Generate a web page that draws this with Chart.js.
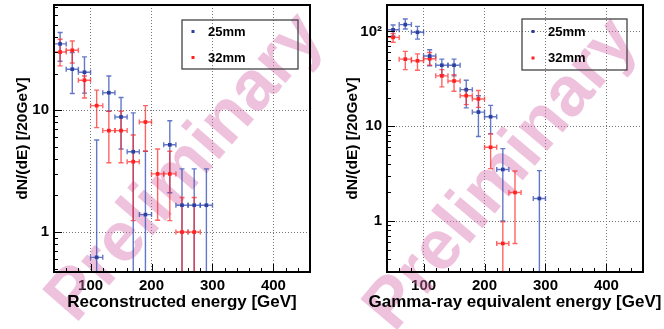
<!DOCTYPE html>
<html><head><meta charset="utf-8">
<script src="https://cdn.jsdelivr.net/npm/chart.js@4"></script>
<style>
html,body{margin:0;padding:0;background:#fff;}
#wrap{position:relative;width:664px;height:329px;overflow:hidden;background:#fff;}
.c{position:absolute;top:0;width:332px;height:329px;}
</style></head><body>
<div id="wrap">
<div class="c" style="left:0"><canvas id="c1" width="332" height="329"></canvas></div>
<div class="c" style="left:332px"><canvas id="c2" width="332" height="329"></canvas></div>
</div>
<script>
// ---- data ----
const energyBins = [50,70,90,110,130,150,170,190,210,230,250,270,290];
const binHalfWidth = 10;
const seriesLabels = ['25mm','32mm'];
const xTickValues = [100,200,300,400];

// left panel: reconstructed energy
const recoBlue     = [35, 21.7, 20.5, 0.62, 13.9, 8.8, 4.56, 1.39, null, 5.2, 1.66, 1.66, 1.66];
const recoBlueHigh = [43.4, 29.7, 27.4, 5.7, 19.1, 12.7, 9.5, 4.6, null, 8.2, 3.3, 3.3, 3.3];
const recoBlueLow  = [25.2, 13.7, 13.8, 0.1, 9.8, 4.8, 0.1, 0.1, null, 2.1, 0.1, 0.1, 0.1];
const recoRed      = [30, 31, 17.6, 10.9, 6.8, 6.8, 3.78, 8.0, 3.0, 3.0, 1.0, 1.0, null];
const recoRedHigh  = [38.2, 37, 19.1, 14.6, 9.8, 9.8, 6.25, 10.9, 4.8, 4.6, 1.92, 1.92, null];
const recoRedLow   = [23.1, 24.4, 12.6, 7.2, 3.7, 3.7, 1.24, 4.6, 1.25, 1.24, 0.1, 0.1, null];

// right panel: gamma-ray equivalent energy
const gammaBlue     = [104, 118, 98, 55, 44, 44, 24.3, 14.1, 12.6, 3.5, null, null, 1.73];
const gammaBlueHigh = [117, 135, 113, 64, 51, 51, 30.5, 21, 16.6, 5.8, null, null, 3.4];
const gammaBlueLow  = [89, 106, 83, 43.5, 35, 34, 15.6, 7.8, 8.3, 1.0, null, null, 0.1];
const gammaRed      = [86.5, 51, 49, 51.5, 34, 30, 21, 19.4, 6.0, 0.58, 2.0, null, null];
const gammaRedHigh  = [95, 61.6, 58, 60, 39.5, 35, 24.3, 23.8, 8.3, 0.98, 3.37, null, null];
const gammaRedLow   = [77, 39.5, 39, 44, 26, 23.4, 16.9, 15.8, 3.57, 0.1, 0.58, null, null];

// ---- styles ----
const FONT = "'Liberation Sans', Arial, sans-serif";
const BLUE = '#2b40a0', RED = '#ff2020';
const BLUE_BAR = 'rgba(50,75,180,0.75)', RED_BAR = 'rgba(255,40,40,0.72)';

const watermarkPlugin = {
  id: 'watermark',
  beforeDatasetsDraw(chart, args, o) {
    const ctx = chart.ctx;
    ctx.save();
    ctx.translate(o.cx, o.cy);
    ctx.rotate(o.angle * Math.PI / 180);
    ctx.font = `bold ${o.size}px ${FONT}`;
    ctx.fillStyle = 'rgba(214,110,175,0.42)';
    ctx.textAlign = 'center';
    ctx.textBaseline = 'middle';
    ctx.fillText('Preliminary', 0, 0);
    ctx.restore();
  }
};

const errorBarPlugin = {
  id: 'errbars',
  beforeDatasetsDraw(chart) {
    const {ctx, chartArea: a, scales: {x, y}} = chart;
    ctx.save();
    ctx.beginPath(); ctx.rect(a.left, a.top, a.right - a.left, a.bottom - a.top); ctx.clip();
    chart.data.datasets.forEach(ds => {
      ctx.strokeStyle = ds.barColor; ctx.lineWidth = 1.4;
      ds.data.forEach((p, i) => {
        if (p.y == null) return;
        const px = x.getPixelForValue(p.x), py = y.getPixelForValue(p.y);
        const xl = x.getPixelForValue(p.x - binHalfWidth), xr = x.getPixelForValue(p.x + binHalfWidth);
        const yt = y.getPixelForValue(ds.errHigh[i]), yb = y.getPixelForValue(ds.errLow[i]);
        const c = 2.5;
        ctx.beginPath();
        ctx.moveTo(px, yt); ctx.lineTo(px, yb);
        ctx.moveTo(xl, py); ctx.lineTo(xr, py);
        ctx.moveTo(px - c, yt); ctx.lineTo(px + c, yt);
        ctx.moveTo(px - c, yb); ctx.lineTo(px + c, yb);
        ctx.moveTo(xl, py - c); ctx.lineTo(xl, py + c);
        ctx.moveTo(xr, py - c); ctx.lineTo(xr, py + c);
        ctx.stroke();
      });
    });
    ctx.restore();
  }
};

const framePlugin = {
  id: 'frame',
  afterDatasetsDraw(chart, args, o) {
    const {ctx, chartArea: a, scales: {x, y}} = chart;
    ctx.save();
    ctx.strokeStyle = '#000';
    ctx.lineWidth = 1;
    ctx.beginPath();
    for (let v = 60; v < x.max; v += 20) {
      const px = Math.round(x.getPixelForValue(v)) + 0.5;
      const len = (v % 100 === 0) ? 8 : 4;
      ctx.moveTo(px, a.bottom); ctx.lineTo(px, a.bottom - len);
    }
    for (let d = 0.1; d <= 100; d *= 10) {
      for (let k = 1; k <= 9; k++) {
        const v = k * d;
        if (v < y.min || v > y.max) continue;
        const py = Math.round(y.getPixelForValue(v)) + 0.5;
        const len = k === 1 ? 8 : 4;
        ctx.moveTo(a.left, py); ctx.lineTo(a.left + len, py);
      }
    }
    ctx.stroke();
    ctx.lineWidth = 2;
    ctx.strokeRect(a.left, a.top, a.right - a.left, a.bottom - a.top);
    // x-axis title (drawn without width compression; may run past the canvas edge like the original)
    ctx.fillStyle = '#000';
    ctx.font = `bold 17px ${FONT}`;
    ctx.textAlign = 'center';
    ctx.textBaseline = 'middle';
    ctx.fillText(o.xTitle, (a.left + a.right) / 2, 302);
    // legend
    const L = o.legend;
    ctx.lineWidth = 1.3;
    ctx.strokeStyle = '#444';
    ctx.strokeRect(a.left + L.x, a.top + L.y, L.w, L.h);
    ctx.font = `bold 13px ${FONT}`;
    ctx.textBaseline = 'middle';
    ctx.textAlign = 'left';
    chart.data.datasets.forEach((ds, i) => {
      const cy = a.top + L.y + L.row0 + i * L.rowGap;
      ctx.fillStyle = ds.pointBackgroundColor;
      ctx.fillRect(a.left + L.x + L.mx - 1.5, cy - 1.5, 3, 3);
      ctx.fillStyle = '#000';
      ctx.fillText(ds.label, a.left + L.x + L.tx, cy + 0.5);
    });
    ctx.restore();
  }
};

function makeChart(canvasId, cfg) {
  const mk = (label, vals, hi, lo, col, bar) => ({
    label, barColor: bar, errHigh: hi, errLow: lo,
    data: energyBins.map((e, i) => ({x: e, y: vals[i]})),
    pointStyle: 'rect', pointRadius: 2.6, pointHoverRadius: 2.6,
    pointBackgroundColor: col, pointBorderColor: col, pointBorderWidth: 0,
    showLine: false
  });
  return new Chart(document.getElementById(canvasId), {
    type: 'scatter',
    data: {datasets: [
      mk(seriesLabels[0], cfg.blue, cfg.blueHigh, cfg.blueLow, BLUE, BLUE_BAR),
      mk(seriesLabels[1], cfg.red, cfg.redHigh, cfg.redLow, RED, RED_BAR)
    ]},
    options: {
      responsive: false, animation: false, devicePixelRatio: 1,
      layout: {padding: {top: 5, right: cfg.padRight, left: 0, bottom: 0}},
      plugins: {
        legend: {display: false}, tooltip: {enabled: false},
        watermark: cfg.watermark,
        frame: {legend: cfg.legend, xTitle: cfg.xTitle}
      },
      scales: {
        x: {
          type: 'linear', min: 40, max: 460,
          afterBuildTicks: s => { s.ticks = xTickValues.map(v => ({value: v})); },
          afterFit: s => { s.height = 57; s.paddingLeft = 0; s.paddingRight = 0; s.paddingTop = 0; s.paddingBottom = 0; },
          ticks: {color: '#000', font: {family: FONT, weight: 'bold', size: 15}, padding: 5, maxRotation: 0},
          grid: {color: '#777', lineWidth: 1, drawTicks: false},
          border: {display: false, dash: [1, 2]},
          title: {display: false}
        },
        y: {
          type: 'logarithmic', min: cfg.yMin, max: cfg.yMax,
          afterBuildTicks: s => { s.ticks = cfg.yTicks.map(v => ({value: v})); },
          afterFit: s => { s.width = cfg.yWidth; s.paddingTop = 0; s.paddingBottom = 0; s.paddingLeft = 0; s.paddingRight = 0; },
          ticks: {color: '#000', font: {family: FONT, weight: 'bold', size: 15}, padding: 5,
                  callback: v => v === 100 ? '10\u00B2' : String(v)},
          grid: {color: '#777', lineWidth: 1, drawTicks: false},
          border: {display: false, dash: [1, 2]},
          title: {display: true, text: 'dN/(dE) [/20GeV]', color: '#000', font: {family: FONT, weight: 'bold', size: 15.5}, padding: {top: cfg.yTitlePad, bottom: 0}}
        }
      }
    },
    plugins: [watermarkPlugin, errorBarPlugin, framePlugin]
  });
}

makeChart('c1', {
  blue: recoBlue, blueHigh: recoBlueHigh, blueLow: recoBlueLow,
  red: recoRed, redHigh: recoRedHigh, redLow: recoRedLow,
  xTitle: 'Reconstructed energy [GeV]',
  yMin: 0.47, yMax: 73, yTicks: [1, 10], yWidth: 54, padRight: 22, yTitlePad: 13,
  watermark: {cx: 186, cy: 168, angle: -49, size: 70},
  legend: {x: 128, y: 15, w: 116, h: 49, mx: 11, tx: 26, row0: 11.5, rowGap: 26}
});
makeChart('c2', {
  blue: gammaBlue, blueHigh: gammaBlueHigh, blueLow: gammaBlueLow,
  red: gammaRed, redHigh: gammaRedHigh, redLow: gammaRedLow,
  xTitle: 'Gamma-ray equivalent energy [GeV]',
  yMin: 0.29, yMax: 190, yTicks: [1, 10, 100], yWidth: 55, padRight: 21, yTitlePad: 11,
  watermark: {cx: 170, cy: 175, angle: -50, size: 70},
  legend: {x: 135, y: 14, w: 105, h: 51, mx: 11, tx: 26, row0: 12.5, rowGap: 26.5}
});
</script>
</body></html>
